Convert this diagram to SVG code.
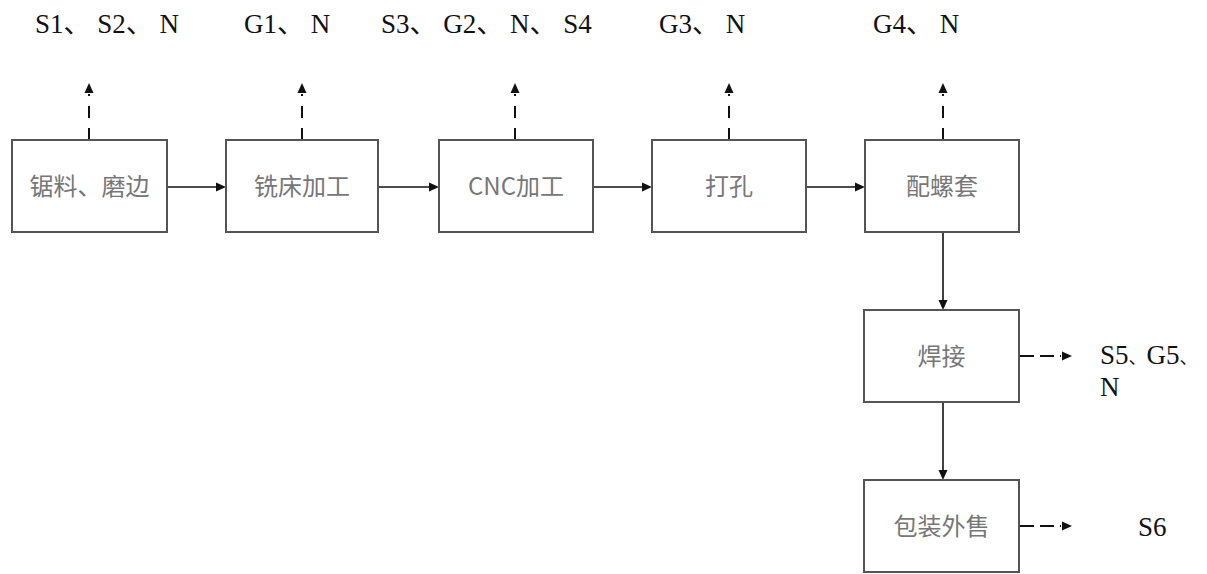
<svg xmlns="http://www.w3.org/2000/svg" width="1207" height="574" viewBox="0 0 1207 574">
<style>
.box{fill:#fff;stroke:#555;stroke-width:2}
.bt{font-family:"Noto Sans CJK SC","Noto Sans",sans-serif;font-size:24px;fill:#777;text-anchor:middle}
.lb{font-family:"Liberation Serif","Noto Sans CJK SC",serif;font-size:27px;fill:#111}
.sm{font-size:18px}
.solid{stroke:#111;stroke-width:1.6;fill:none}
.dv{stroke:#111;stroke-width:2;fill:none;stroke-dasharray:12 10}
.dh{stroke:#111;stroke-width:2;fill:none;stroke-dasharray:14 6}
.ah{fill:#111}
</style>
<rect width="1207" height="574" fill="#fff"/>
<g id="connectors">
<line class="solid" x1="167" y1="187" x2="217" y2="187"/><polygon class="ah" points="226,187 216,182.5 216,191.5"/>
<line class="solid" x1="378" y1="187" x2="430" y2="187"/><polygon class="ah" points="439,187 429,182.5 429,191.5"/>
<line class="solid" x1="593" y1="187" x2="643" y2="187"/><polygon class="ah" points="652,187 642,182.5 642,191.5"/>
<line class="solid" x1="806" y1="187" x2="856" y2="187"/><polygon class="ah" points="865,187 855,182.5 855,191.5"/>
<line class="solid" x1="943" y1="232" x2="943" y2="301"/><polygon class="ah" points="943,310 938.5,300 947.5,300"/>
<line class="solid" x1="943" y1="402" x2="943" y2="471"/><polygon class="ah" points="943,480 938.5,470 947.5,470"/>
<line class="dv" x1="89" y1="140" x2="89" y2="94"/><polygon class="ah" points="89,83 84.5,93 93.5,93"/>
<line class="dv" x1="302" y1="140" x2="302" y2="94"/><polygon class="ah" points="302,83 297.5,93 306.5,93"/>
<line class="dv" x1="515" y1="140" x2="515" y2="94"/><polygon class="ah" points="515,83 510.5,93 519.5,93"/>
<line class="dv" x1="729" y1="140" x2="729" y2="94"/><polygon class="ah" points="729,83 724.5,93 733.5,93"/>
<line class="dv" x1="943" y1="140" x2="943" y2="94"/><polygon class="ah" points="943,83 938.5,93 947.5,93"/>
<line class="dh" x1="1020" y1="356" x2="1061" y2="356"/><polygon class="ah" points="1072,356 1062,351.5 1062,360.5"/>
<line class="dh" x1="1020" y1="526" x2="1061" y2="526"/><polygon class="ah" points="1072,526 1062,521.5 1062,530.5"/>
</g>
<g id="n1"><rect class="box" x="12" y="140" width="155" height="92"/><text class="bt" x="89.5" y="195">锯料、磨边</text></g>
<g id="n2"><rect class="box" x="226" y="140" width="152" height="92"/><text class="bt" x="302" y="195">铣床加工</text></g>
<g id="n3"><rect class="box" x="439" y="140" width="154" height="92"/><text class="bt" x="516" y="195">CNC加工</text></g>
<g id="n4"><rect class="box" x="652" y="140" width="154" height="92"/><text class="bt" x="729" y="195">打孔</text></g>
<g id="n5"><rect class="box" x="865" y="140" width="154" height="92"/><text class="bt" x="942" y="195">配螺套</text></g>
<g id="n6"><rect class="box" x="864" y="310" width="155" height="92"/><text class="bt" x="941.5" y="365">焊接</text></g>
<g id="n7"><rect class="box" x="864" y="480" width="155" height="92"/><text class="bt" x="941.5" y="535">包装外售</text></g>
<g id="labels">
<text class="lb" x="35" y="33">S1、 S2、 N</text>
<text class="lb" x="244" y="33">G1、 N</text>
<text class="lb" x="381" y="33">S3、 G2、 N、 S4</text>
<text class="lb" x="659" y="33">G3、 N</text>
<text class="lb" x="873" y="33">G4、 N</text>
<text class="lb" x="1100" y="364">S5<tspan class="sm">、</tspan>G5<tspan class="sm">、</tspan></text>
<text class="lb" x="1100" y="396">N</text>
<text class="lb" x="1138" y="536">S6</text>
</g>
</svg>
